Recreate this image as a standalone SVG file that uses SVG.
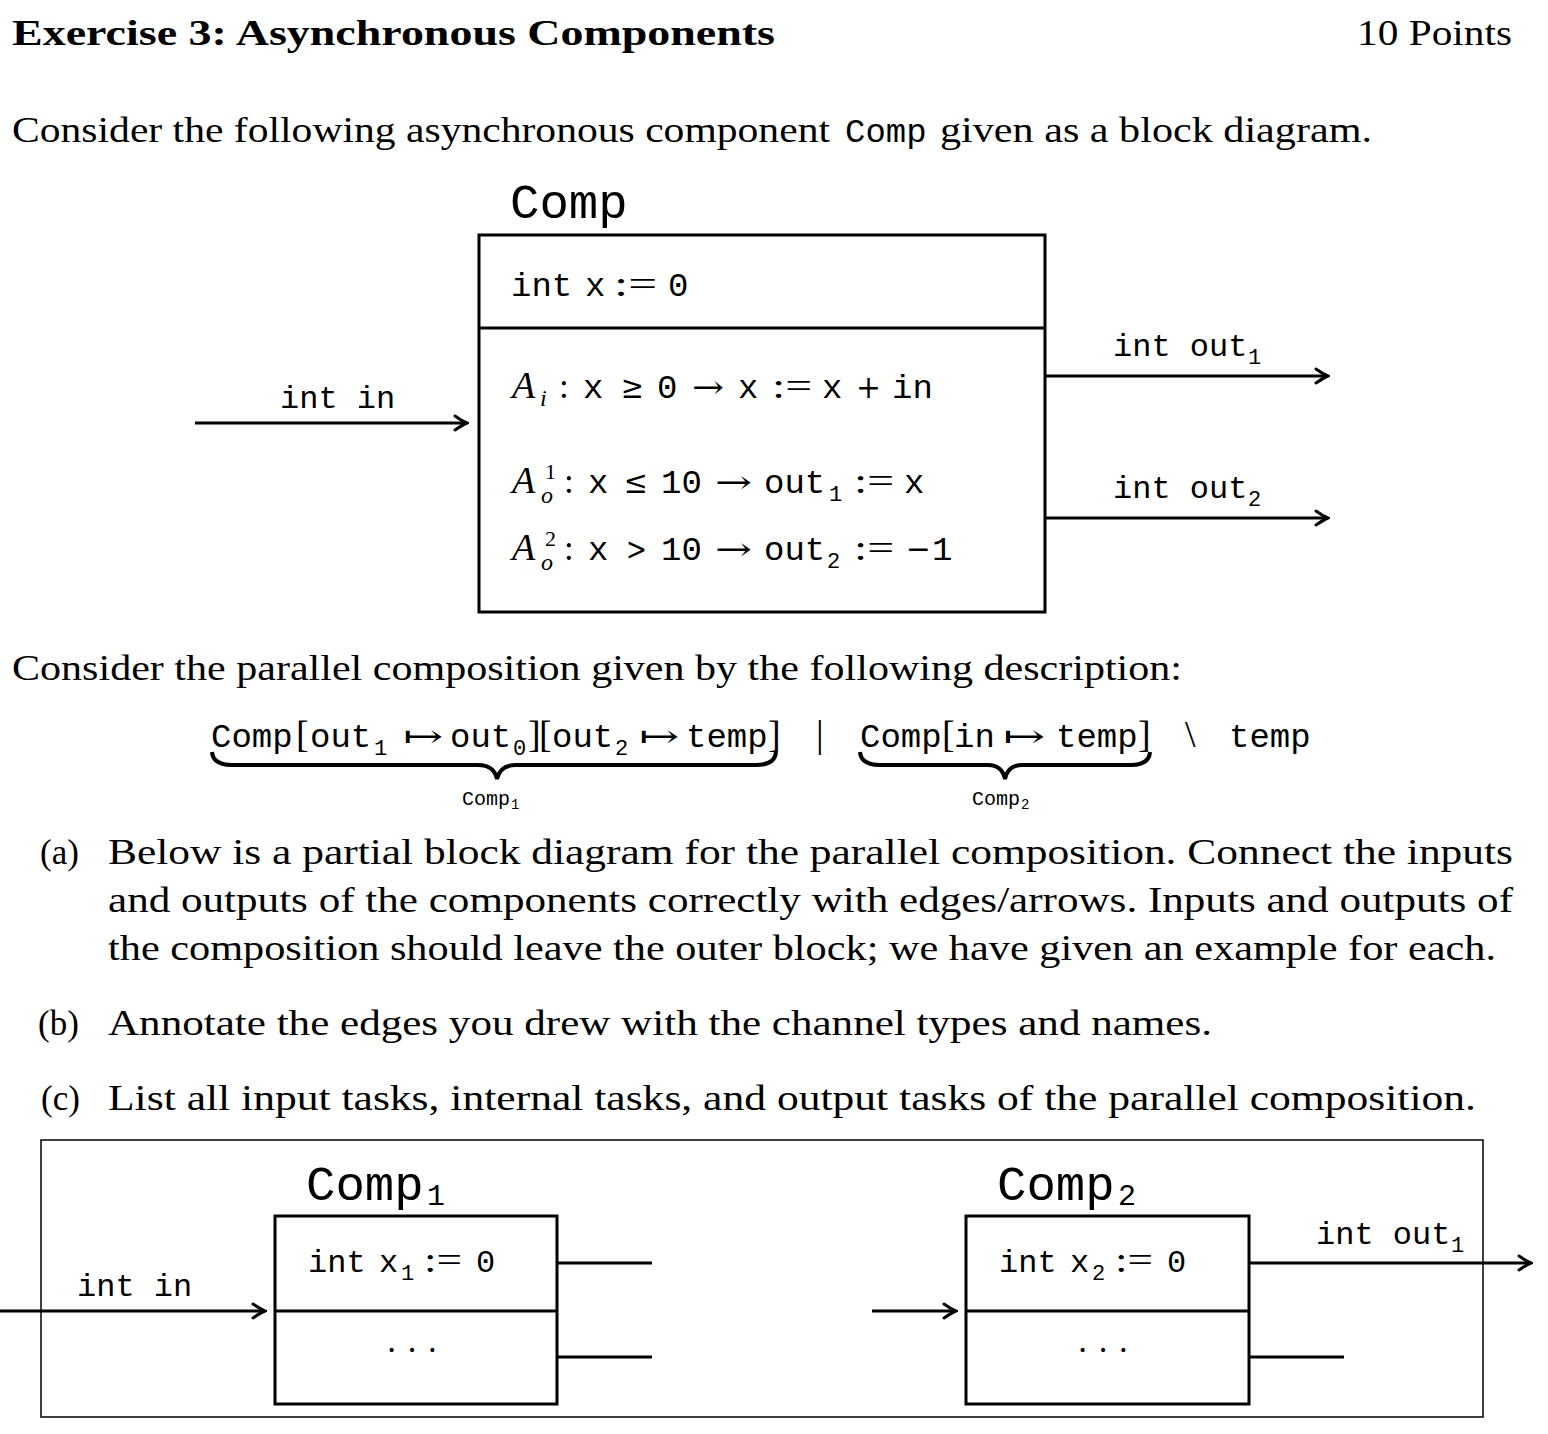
<svg xmlns="http://www.w3.org/2000/svg" width="1548" height="1434" viewBox="0 0 1548 1434">
<defs>
<style>
.s{font-family:"Liberation Serif","DejaVu Serif",serif;font-size:35px;fill:#000}
.b{font-weight:bold}
.m{font-family:"Liberation Mono","DejaVu Sans Mono",monospace;font-size:34px;fill:#000}
.l{font-family:"Liberation Mono","DejaVu Sans Mono",monospace;font-size:32px;fill:#000}
.mb{font-family:"Liberation Mono","DejaVu Sans Mono",monospace;font-size:49px;fill:#000}
.sub{font-family:"Liberation Mono","DejaVu Sans Mono",monospace;font-size:22px;fill:#000}
.it{font-family:"Liberation Serif","DejaVu Serif",serif;font-style:italic;fill:#000}
.op{font-family:"DejaVu Serif","Liberation Serif",serif;font-size:32px;fill:#000}
.box{fill:none;stroke:#000;stroke-width:3}
.ln{fill:none;stroke:#000;stroke-width:3}
.thin{fill:none;stroke:#000;stroke-width:1.5}
</style>
<marker id="ah" viewBox="-14 -10 16 20" refX="0" refY="0" markerWidth="16" markerHeight="20" markerUnits="userSpaceOnUse" orient="auto">
<path d="M-12,-7 Q-4,-1.5 0,0 Q-4,1.5 -12,7" fill="none" stroke="#000" stroke-width="3" stroke-linecap="round"/>
</marker>
</defs>
<rect width="1548" height="1434" fill="#fff"/>

<!-- header text -->
<text class="s b" x="12" y="45" style="font-size:36px" textLength="763" lengthAdjust="spacingAndGlyphs">Exercise 3: Asynchronous Components</text>
<text class="s" x="1357" y="45" style="font-size:36px" textLength="155" lengthAdjust="spacingAndGlyphs">10 Points</text>
<text class="s" x="12" y="142" textLength="818" lengthAdjust="spacingAndGlyphs">Consider the following asynchronous component</text>
<text class="m" x="845" y="142">Comp</text>
<text class="s" x="940" y="142" textLength="432" lengthAdjust="spacingAndGlyphs">given as a block diagram.</text>

<!-- Comp block -->
<g id="comp">
<text class="mb" x="510" y="218">Comp</text>
<rect class="box" x="479" y="235" width="566" height="377"/>
<line class="ln" x1="479" y1="328" x2="1045" y2="328"/>
<text class="m" x="511" y="296">int</text>
<text class="m" x="585" y="296">x</text>
<text class="s" x="614" y="296" textLength="43" lengthAdjust="spacingAndGlyphs">:=</text>
<text class="m" x="668" y="296">0</text>
<!-- Ai -->
<text class="it" x="512" y="398" style="font-size:38px">A</text>
<text class="it" x="540" y="406" style="font-size:24px">i</text>
<text class="s" x="559" y="398">:</text>
<text class="m" x="583" y="398">x</text>
<text class="op" x="621" y="398" textLength="23" lengthAdjust="spacingAndGlyphs">≥</text>
<text class="m" x="657" y="398">0</text>
<text class="op" x="692" y="398" textLength="32" lengthAdjust="spacingAndGlyphs">→</text>
<text class="m" x="738" y="398">x</text>
<text class="s" x="772" y="398" textLength="40" lengthAdjust="spacingAndGlyphs">:=</text>
<text class="m" x="822" y="398">x</text>
<text class="op" x="856" y="398" textLength="25" lengthAdjust="spacingAndGlyphs">+</text>
<text class="m" x="892" y="398">in</text>
<!-- Ao1 -->
<text class="it" x="512" y="493" style="font-size:38px">A</text>
<text class="s" x="545" y="479" style="font-size:22px">1</text>
<text class="it" x="541" y="503" style="font-size:24px">o</text>
<text class="s" x="564" y="493">:</text>
<text class="m" x="588" y="493">x</text>
<text class="op" x="624" y="493" textLength="24" lengthAdjust="spacingAndGlyphs">≤</text>
<text class="m" x="661" y="493">10</text>
<text class="op" x="715" y="493" textLength="37" lengthAdjust="spacingAndGlyphs">→</text>
<text class="m" x="764" y="493">out</text>
<text class="sub" x="829" y="501">1</text>
<text class="s" x="854" y="493" textLength="40" lengthAdjust="spacingAndGlyphs">:=</text>
<text class="m" x="904" y="493">x</text>
<!-- Ao2 -->
<text class="it" x="512" y="560" style="font-size:38px">A</text>
<text class="s" x="545" y="546" style="font-size:22px">2</text>
<text class="it" x="541" y="570" style="font-size:24px">o</text>
<text class="s" x="564" y="560">:</text>
<text class="m" x="588" y="560">x</text>
<text class="op" x="626" y="560" textLength="21" lengthAdjust="spacingAndGlyphs">&gt;</text>
<text class="m" x="661" y="560">10</text>
<text class="op" x="715" y="560" textLength="37" lengthAdjust="spacingAndGlyphs">→</text>
<text class="m" x="764" y="560">out</text>
<text class="sub" x="827" y="568">2</text>
<text class="s" x="854" y="560" textLength="40" lengthAdjust="spacingAndGlyphs">:=</text>
<text class="op" x="906" y="560" textLength="25" lengthAdjust="spacingAndGlyphs">−</text>
<text class="m" x="932" y="560">1</text>
</g>

<g id="comp-ports">
<text class="l" x="280" y="408">int in</text>
<text class="l" x="1113" y="356">int out</text>
<text class="sub" x="1248" y="364">1</text>
<text class="l" x="1113" y="498">int out</text>
<text class="sub" x="1248" y="506">2</text>
</g>

<text class="s" x="12" y="680" textLength="1170" lengthAdjust="spacingAndGlyphs">Consider the parallel composition given by the following description:</text>

<!-- formula -->
<g id="formula">
<text class="m" x="211" y="747">Comp</text>
<text class="s" x="296" y="747" style="font-size:38px">[</text>
<text class="m" x="310" y="747">out</text>
<text class="sub" x="374" y="755">1</text>
<text class="op" x="403" y="747" textLength="40" lengthAdjust="spacingAndGlyphs">↦</text>
<text class="m" x="450" y="747">out</text>
<text class="sub" x="513" y="755">0</text>
<text class="s" x="528" y="747" style="font-size:38px">]</text>
<text class="s" x="539" y="747" style="font-size:38px">[</text>
<text class="m" x="552" y="747">out</text>
<text class="sub" x="615" y="755">2</text>
<text class="op" x="639" y="747" textLength="40" lengthAdjust="spacingAndGlyphs">↦</text>
<text class="m" x="686" y="747">temp</text>
<text class="s" x="768" y="747" style="font-size:38px">]</text>
<text class="s" x="816" y="747" style="font-size:38px">|</text>
<text class="m" x="860" y="747">Comp</text>
<text class="s" x="942" y="747" style="font-size:38px">[</text>
<text class="m" x="954" y="747">in</text>
<text class="op" x="1003" y="747" textLength="42" lengthAdjust="spacingAndGlyphs">↦</text>
<text class="m" x="1056" y="747">temp</text>
<text class="s" x="1138" y="747" style="font-size:38px">]</text>
<text class="s" x="1185" y="747" style="font-size:38px">\</text>
<text class="m" x="1229" y="747">temp</text>
<path d="M212,752 Q213,765 232,765 L478,765 Q494,765 497,779 Q500,765 516,765 L756,765 Q775,765 776,752" fill="none" stroke="#000" stroke-width="4"/>
<path d="M860,752 Q861,765 880,765 L988,765 Q1002,765 1005,779 Q1008,765 1022,765 L1131,765 Q1149,765 1150,752" fill="none" stroke="#000" stroke-width="4"/>
<text class="m" x="462" y="805" style="font-size:20px">Comp</text>
<text class="m" x="511" y="809" style="font-size:14px">1</text>
<text class="m" x="972" y="805" style="font-size:20px">Comp</text>
<text class="m" x="1021" y="809" style="font-size:14px">2</text>
</g>

<!-- questions -->
<text class="s" x="40" y="864">(a)</text>
<text class="s" x="108" y="864" textLength="1405" lengthAdjust="spacingAndGlyphs">Below is a partial block diagram for the parallel composition. Connect the inputs</text>
<text class="s" x="108" y="912" textLength="1405" lengthAdjust="spacingAndGlyphs">and outputs of the components correctly with edges/arrows. Inputs and outputs of</text>
<text class="s" x="108" y="960" textLength="1388" lengthAdjust="spacingAndGlyphs">the composition should leave the outer block; we have given an example for each.</text>
<text class="s" x="38" y="1035">(b)</text>
<text class="s" x="108" y="1035" textLength="1104" lengthAdjust="spacingAndGlyphs">Annotate the edges you drew with the channel types and names.</text>
<text class="s" x="41" y="1110">(c)</text>
<text class="s" x="108" y="1110" textLength="1368" lengthAdjust="spacingAndGlyphs">List all input tasks, internal tasks, and output tasks of the parallel composition.</text>

<!-- composition -->
<g id="outer">
<rect class="thin" x="41" y="1140" width="1442" height="277"/>
</g>
<g id="comp1">
<text class="mb" x="306" y="1200">Comp</text>
<text class="m" x="427" y="1205" style="font-size:30px">1</text>
<rect class="box" x="275" y="1216" width="282" height="188"/>
<line class="ln" x1="275" y1="1311" x2="557" y2="1311"/>
<text class="l" x="308" y="1272">int</text>
<text class="l" x="379" y="1272">x</text>
<text class="sub" x="401" y="1280">1</text>
<text class="s" x="424" y="1272" textLength="38" lengthAdjust="spacingAndGlyphs">:=</text>
<text class="l" x="476" y="1272">0</text>
<text class="s" x="412" y="1362" text-anchor="middle">· · ·</text>
</g>
<g id="comp2">
<text class="mb" x="997" y="1200">Comp</text>
<text class="m" x="1118" y="1205" style="font-size:30px">2</text>
<rect class="box" x="966" y="1216" width="283" height="188"/>
<line class="ln" x1="966" y1="1311" x2="1249" y2="1311"/>
<text class="l" x="999" y="1272">int</text>
<text class="l" x="1070" y="1272">x</text>
<text class="sub" x="1092" y="1280">2</text>
<text class="s" x="1115" y="1272" textLength="38" lengthAdjust="spacingAndGlyphs">:=</text>
<text class="l" x="1167" y="1272">0</text>
<text class="s" x="1103" y="1362" text-anchor="middle">· · ·</text>
</g>

<g id="connectors">
<line class="ln" x1="195" y1="423" x2="467" y2="423" marker-end="url(#ah)"/>
<line class="ln" x1="1045" y1="376" x2="1328" y2="376" marker-end="url(#ah)"/>
<line class="ln" x1="1045" y1="518" x2="1328" y2="518" marker-end="url(#ah)"/>
<line class="ln" x1="0" y1="1311" x2="265" y2="1311" marker-end="url(#ah)"/>
<line class="ln" x1="557" y1="1263" x2="652" y2="1263"/>
<line class="ln" x1="557" y1="1357" x2="652" y2="1357"/>
<line class="ln" x1="872" y1="1311" x2="956" y2="1311" marker-end="url(#ah)"/>
<line class="ln" x1="1249" y1="1263" x2="1531" y2="1263" marker-end="url(#ah)"/>
<line class="ln" x1="1249" y1="1357" x2="1344" y2="1357"/>
</g>
<g id="labels">
<text class="l" x="77" y="1296">int in</text>
<text class="l" x="1316" y="1244">int out</text>
<text class="sub" x="1451" y="1252">1</text>
</g>
</svg>
